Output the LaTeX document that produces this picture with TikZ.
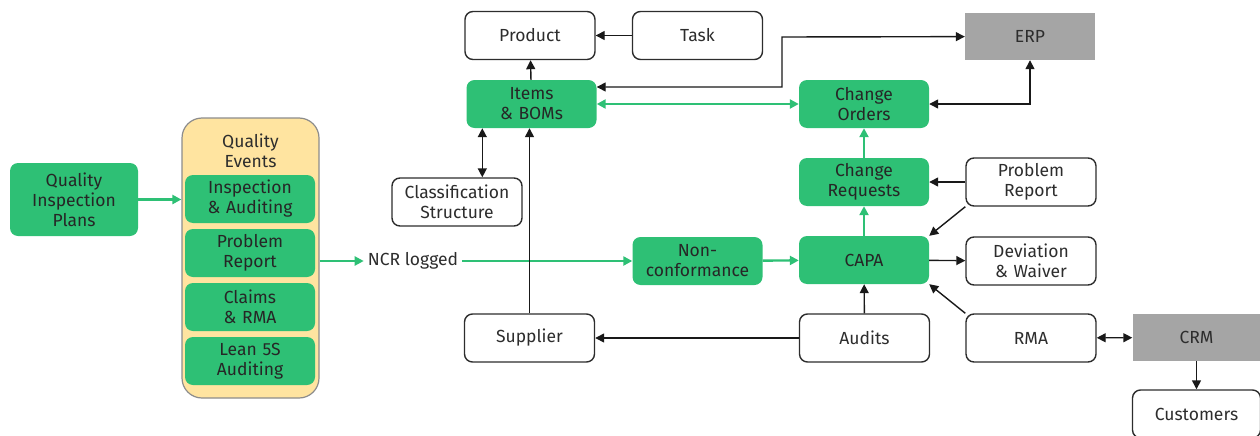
\documentclass[tikz,border=0pt]{standalone}
\usepackage{fontspec}
\setmainfont{Fira Sans}
\usepackage{xcolor}
\usepackage{tikz}
\usetikzlibrary{arrows.meta}
\usetikzlibrary{calc,positioning}
\definecolor{qgreen}{RGB}{46,192,117}
\definecolor{qyellow}{RGB}{255,228,160}
\definecolor{qgray}{RGB}{165,165,165}
\definecolor{qtext}{RGB}{45,45,45}
\tikzset{%
  >={Triangle[width=9pt,length=9pt]},
  % Specifications for style of nodes:
  base/.style = {rectangle, rounded corners=8pt,
    minimum width=130pt,
    text width=128pt,
    minimum height=48pt,
    inner sep=0pt,
    align=center, font=\fontsize{17.5}{20}\selectfont, text=qtext},
  plain/.style = {base, draw=qtext, line width=1.4pt, fill=white},
  greenbox/.style = {base, fill=qgreen, text=black!85},
  system/.style = {base, rounded corners=0pt, fill=qgray, minimum height=47pt},
  holder/.style = {rectangle, rounded corners=20pt, draw=black!45,
    line width=1.2pt, fill=qyellow, minimum width=137pt, minimum height=280pt},
  % Specifications for style of connectors:
  blackline/.style = {line width=1.4pt, draw=black!90},
  greenline/.style = {line width=2.4pt, draw=qgreen},
}

\begin{document}
\begin{tikzpicture}[x=1pt,y=-1pt]
        \useasboundingbox (0,0) rectangle (1260,436);
        % Quality events on the left
        \node(QIP)[greenbox,minimum width=128pt,minimum height=73pt] at (74,199.5){Quality\\ Inspection\\ Plans};
        \node(QE)[holder] at (250.5,258){};
        \node(QEtitle)[base,text width=120pt] at (250.5,151){Quality\\ Events};
        \node(Insp)[greenbox,minimum width=130pt] at (250,199){Inspection\\ \& Auditing};
        \node(PRa)[greenbox,minimum width=130pt] at (250,253){Problem\\ Report};
        \node(Claims)[greenbox,minimum width=130pt] at (250,307){Claims\\ \& RMA};
        \node(Lean)[greenbox,minimum width=130pt] at (250,361){Lean 5S\\ Auditing};
        \node(NCR)[base,minimum width=0pt,text width=,inner sep=4pt] at (413,261){NCR logged};
        % Middle part
        \node(Product)[plain] at (530,35.5){Product};
        \node(Task)[plain] at (697.5,35.5){Task};
        \node(Items)[greenbox] at (531.5,104){Items\\ \& BOMs};
        \node(Class)[plain] at (457,202){Classification\\ Structure};
        \node(NC)[greenbox] at (697.5,261){Non-\\ conformance};
        \node(Supplier)[plain] at (529.5,338){Supplier};
        % Right part
        \node(ERP)[system] at (1030,36.5){ERP};
        \node(CO)[greenbox] at (864,104){Change\\ Orders};
        \node(CR)[greenbox] at (864,182){Change\\ Requests};
        \node(CAPA)[greenbox] at (864,260){CAPA};
        \node(Audits)[plain] at (864.5,338){Audits};
        \node(PRb)[plain] at (1031,182){Problem\\ Report};
        \node(Dev)[plain] at (1031,261){Deviation\\ \& Waiver};
        \node(RMA)[plain] at (1031,338){RMA};
        \node(CRM)[system,minimum width=127pt] at (1196.5,337.5){CRM};
        \node(Cust)[plain,minimum width=127pt] at (1196.5,414){Customers};
        \coordinate(bend) at (782,37);
        % Connectors
        \draw[greenline,->](QIP.east) -- (QIP.east -| QE.west);
        \draw[greenline,->](QE.east |- NCR) -- (NCR);
        \draw[greenline,->](NCR) -- (NC);
        \draw[greenline,->](NC) -- (CAPA);
        \draw[greenline,->](CAPA) -- (CR);
        \draw[greenline,->](CR) -- (CO);
        \draw[greenline,<->](Items) -- (CO);
        \draw[blackline,->](Task) -- (Product);
        \draw[blackline,->](Items) -- (Product);
        \draw[blackline,<->](Items.east) ++(0,-17) -| (bend) -- (ERP);
        \draw[blackline,<->](CO.east) -| (ERP.south);
        \draw[blackline,<->]($(Items.south west)+(16,0)$) coordinate(cs) -- (cs |- Class.north);
        \draw[blackline,->](Supplier) -- (Supplier |- Items.south);
        \draw[blackline,->](Audits) -- (Supplier);
        \draw[blackline,->](Audits) -- (CAPA);
        \draw[blackline,->](PRb) -- (CR);
        \draw[blackline,->](PRb.south west) -- (CAPA.north east);
        \draw[blackline,->](CAPA) -- (Dev);
        \draw[blackline,->](RMA.north west) -- (CAPA.south east);
        \draw[blackline,<->](RMA) -- (CRM);
        \draw[blackline,->](CRM) -- (Cust);
    \end{tikzpicture}
\end{document}
